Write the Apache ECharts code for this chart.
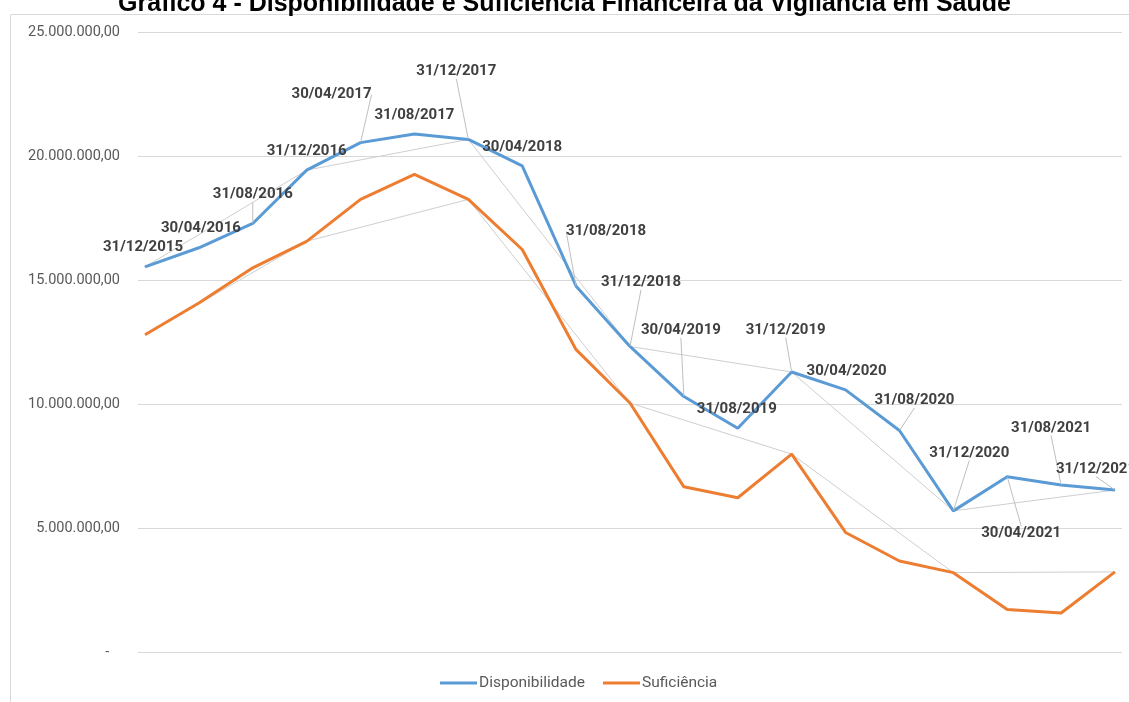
<!DOCTYPE html>
<html>
<head>
<meta charset="utf-8">
<script src="https://cdn.jsdelivr.net/npm/echarts@6/dist/echarts.min.js"></script>
<style>
  html, body { margin: 0; padding: 0; background: #fff; }
  #chart { width: 1129px; height: 702px; }
</style>
</head>
<body>
<div id="chart"></div>
<script>
const dates = [
  '31/12/2015', '30/04/2016', '31/08/2016', '31/12/2016', '30/04/2017', '31/08/2017',
  '31/12/2017', '30/04/2018', '31/08/2018', '31/12/2018', '30/04/2019', '31/08/2019',
  '31/12/2019', '30/04/2020', '31/08/2020', '31/12/2020', '30/04/2021', '31/08/2021',
  '31/12/2021'
]
const disponibilidade = [
  15530000, 16300000, 17280000, 19430000, 20540000, 20890000,
  20670000, 19600000, 14750000, 12320000, 10300000, 9020000,
  11290000, 10570000, 8930000, 5690000, 7070000, 6730000,
  6530000
]
const suficiencia = [
  12790000, 14070000, 15490000, 16560000, 18250000, 19260000,
  18250000, 16230000, 12190000, 10040000, 6660000, 6220000,
  7980000, 4820000, 3670000, 3200000, 1710000, 1570000,
  3230000
]
const yTicks = [0, 5000000, 10000000, 15000000, 20000000, 25000000]

// where each date label sits relative to its point, and whether it gets a leader line
const labelNudge = [
  [-2, -7, 0], [2, -7, 0], [0, -16, 1], [0, -6, 0], [-29, -35, 1], [0, -6, 0],
  [-12, -55, 1], [0, -6, 0], [30, -42, 1], [11, -51, 1], [-3, -53, 1], [-1, -6, 0],
  [-6, -29, 1], [1, -6, 0], [15, -17, 1], [16, -45, 1], [14, 70, 1], [-10, -44, 1],
  [-19, -8, 1]
]

const fmtMoney = (v) => {
  if (v === 0) return '-   '
  const s = Math.round(v).toString().replace(/\B(?=(\d{3})+(?!\d))/g, '.')
  return s + ',00'
}

// year-end points (every 31/12) joined by thin grey lines
const yearEnd = (arr) => arr.map((v, i) => [i, v]).filter((p) => p[0] % 3 === 0)

const chart = echarts.init(document.getElementById('chart'))

const option = {
  animation: false,
  backgroundColor: '#ffffff',
  title: {
    text: 'Gráfico 4 - Disponibilidade e Suficiência Financeira da Vigilância em Saúde',
    left: 'center',
    top: -13,
    textStyle: {
      fontFamily: 'Liberation Sans',
      fontWeight: 'bold',
      fontSize: 25,
      color: '#000000'
    }
  },
  graphic: [
    {
      type: 'rect',
      left: 8,
      top: 12,
      shape: { width: 1200, height: 720 },
      style: { fill: 'none', stroke: '#d9d9d9', lineWidth: 1 },
      silent: true
    }
  ],
  legend: {
    data: ['Disponibilidade', 'Suficiência'],
    bottom: 6,
    left: 435,
    icon: 'rect',
    itemWidth: 37,
    itemHeight: 3,
    itemGap: 18,
    textStyle: {
      fontFamily: 'Roboto',
      fontSize: 15.5,
      color: '#595959',
      padding: [0, 0, 0, -3]
    }
  },
  grid: {
    left: 138,
    right: 7,
    top: 32,
    bottom: 50
  },
  xAxis: {
    type: 'value',
    min: -0.13,
    max: 18.13,
    show: false
  },
  yAxis: {
    type: 'value',
    min: 0,
    max: yTicks[yTicks.length - 1],
    interval: yTicks[1] - yTicks[0],
    axisLine: { show: false },
    axisTick: { show: false },
    axisLabel: {
      formatter: fmtMoney,
      margin: 18,
      fontFamily: 'Roboto',
      fontSize: 14.5,
      color: '#595959'
    },
    splitLine: {
      lineStyle: { color: '#d9d9d9', width: 1 }
    }
  },
  series: [
    {
      name: 'yearEndDisp',
      type: 'line',
      data: yearEnd(disponibilidade),
      symbol: 'none',
      silent: true,
      lineStyle: { color: '#cfcfcf', width: 1 },
      z: 1
    },
    {
      name: 'yearEndSuf',
      type: 'line',
      data: yearEnd(suficiencia),
      symbol: 'none',
      silent: true,
      lineStyle: { color: '#cfcfcf', width: 1 },
      z: 1
    },
    {
      name: 'Suficiência',
      type: 'line',
      data: suficiencia.map((v, i) => [i, v]),
      symbol: 'none',
      color: '#ED7D31',
      lineStyle: { color: '#ED7D31', width: 3 },
      z: 2
    },
    {
      name: 'Disponibilidade',
      type: 'line',
      data: disponibilidade.map((v, i) => ({
        value: [i, v],
        labelLine: { show: labelNudge[i][2] === 1 }
      })),
      symbol: 'circle',
      symbolSize: 1,
      color: '#5B9BD5',
      lineStyle: { color: '#5B9BD5', width: 3 },
      itemStyle: { color: '#5B9BD5' },
      z: 3,
      label: {
        show: true,
        position: 'top',
        distance: 5,
        formatter: (p) => dates[p.dataIndex],
        fontFamily: 'Roboto',
        fontWeight: 'bold',
        fontSize: 15,
        color: '#404040'
      },
      labelLine: {
        show: true,
        lineStyle: { color: '#bfbfbf', width: 1 }
      },
      labelLayout: (params) => {
        const n = labelNudge[params.dataIndex]
        return { dx: n[0], dy: n[1] }
      }
    }
  ]
}

chart.setOption(option)
</script>
</body>
</html>
